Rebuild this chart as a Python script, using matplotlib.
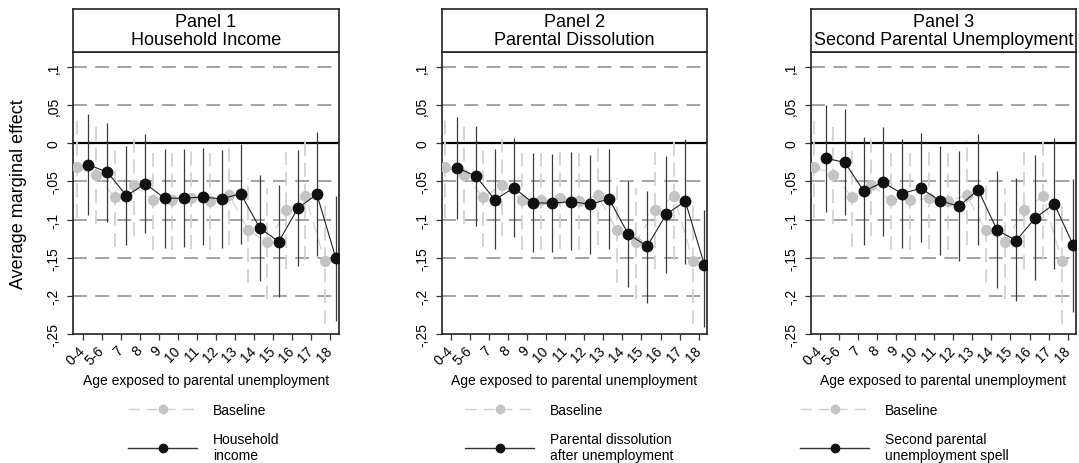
import numpy as np
import matplotlib
matplotlib.use("Agg")
from matplotlib import pyplot as plt
from matplotlib.lines import Line2D

plt.rcParams['font.family'] = ['Liberation Sans', 'DejaVu Sans']
plt.rcParams['lines.scale_dashes'] = False

ages = ['0-4', '5-6', '7', '8', '9', '10', '11', '12', '13', '14', '15', '16', '17', '18']

# baseline estimates (same in every panel)
base = [-0.031, -0.0415, -0.071, -0.055, -0.074, -0.075, -0.072, -0.076, -0.068, -0.114, -0.130, -0.088, -0.069, -0.154]
base_lo = [-0.098, -0.106, -0.136, -0.121, -0.140, -0.140, -0.138, -0.140, -0.134, -0.183, -0.204, -0.1645, -0.1535, -0.2365]
base_hi = [0.032, 0.023, -0.0097, 0.008, -0.0127, -0.0127, -0.0097, -0.0127, 0.0047, -0.046, -0.058, -0.012, 0.005, -0.081]

# panel 1: household income
inc = [-0.028, -0.038, -0.0686, -0.053, -0.072, -0.072, -0.0705, -0.073, -0.066, -0.111, -0.129, -0.085, -0.067, -0.151]
inc_lo = [-0.094, -0.103, -0.134, -0.118, -0.137, -0.136, -0.134, -0.137, -0.132, -0.181, -0.2016, -0.1615, -0.148, -0.2335]
inc_hi = [0.038, 0.0266, -0.003, 0.012, -0.0075, -0.0075, -0.006, -0.009, -0.001, -0.0415, -0.0546, -0.009, 0.015, -0.069]

# panel 2: parental dissolution
dis = [-0.032, -0.043, -0.074, -0.0585, -0.078, -0.0786, -0.0764, -0.080, -0.073, -0.119, -0.135, -0.093, -0.076, -0.159]
dis_lo = [-0.099, -0.108, -0.139, -0.123, -0.143, -0.143, -0.1405, -0.145, -0.139, -0.1885, -0.209, -0.170, -0.158, -0.241]
dis_hi = [0.034, 0.022, -0.008, 0.007, -0.0127, -0.014, -0.012, -0.015, -0.0075, -0.049, -0.062, -0.017, 0.0056, -0.088]

# panel 3: second parental unemployment
sec = [-0.0197, -0.025, -0.063, -0.051, -0.066, -0.059, -0.0755, -0.0825, -0.061, -0.114, -0.1275, -0.098, -0.0795, -0.134]
sec_lo = [-0.0895, -0.094, -0.134, -0.122, -0.137, -0.130, -0.146, -0.154, -0.134, -0.190, -0.207, -0.179, -0.165, -0.221]
sec_hi = [0.050, 0.045, 0.0087, 0.021, 0.0056, 0.0135, -0.004, -0.0105, 0.012, -0.037, -0.046, -0.015, 0.0065, -0.047]

titles = ["Panel 1\nHousehold Income", "Panel 2\nParental Dissolution", "Panel 3\nSecond Parental Unemployment"]
labels = ["Household\nincome", "Parental dissolution\nafter unemployment", "Second parental\nunemployment spell"]
panels = [(inc, inc_lo, inc_hi), (dis, dis_lo, dis_hi), (sec, sec_lo, sec_hi)]

yticks = [0.1, 0.05, 0, -0.05, -0.1, -0.15, -0.2, -0.25]
ytlab = [",1", ",05", "0", "-,05", "-,1", "-,15", "-,2", "-,25"]

W, H = 1079, 464
fig = plt.figure(figsize=(W / 100, H / 100), dpi=100)

lefts = [73.3, 441.7, 810.7]
pw = 265.5
ptop, pbot, htop = 52.7, 335, 10
legx = [128, 465, 800]

x = np.arange(len(ages))
gray = '#c4c4c4'
for k in range(3):
    est, lo, hi = panels[k]
    L = lefts[k]
    ax = fig.add_axes([L / W, 1 - pbot / H, pw / W, (pbot - ptop) / H])
    hx = fig.add_axes([L / W, 1 - ptop / H, pw / W, (ptop - htop) / H])

    # grid
    for yv in yticks:
        if yv == 0:
            ax.axhline(0, color='black', lw=1.6, zorder=1)
        elif yv > -0.25:
            ax.axhline(yv, color='#8a8a8a', lw=1.1, dashes=(10, 6), zorder=1)

    # baseline
    xb = x - 0.3
    ax.vlines(xb, base_lo, base_hi, color='#d2d2d2', lw=1.3, linestyles=(0, (10, 5)), zorder=2)
    ax.plot(xb, base, color='#d4d4d4', lw=0.9, dashes=(8, 5), zorder=2)
    ax.plot(xb, base, 'o', color=gray, ms=7, mec=gray, zorder=3)

    # estimate
    xe = x + 0.3
    ax.vlines(xe, lo, hi, color='#3a3a3a', lw=0.9, zorder=4)
    ax.plot(xe, est, color='#222222', lw=0.8, zorder=4)
    ax.plot(xe, est, 'o', color='#111111', ms=7.5, zorder=5)

    ax.set_xlim(-0.49, 13.45)
    ax.set_ylim(-0.25, 0.12)
    ax.set_yticks(yticks)
    ax.set_yticklabels(ytlab, rotation=90, va='center', fontsize=10)
    ax.set_xticks(x)
    ax.set_xticklabels(ages, rotation=45, ha='right', va='center', rotation_mode='anchor', fontsize=10)
    ax.tick_params(axis='both', length=4, width=0.9, color='#333333', pad=5)
    ax.tick_params(axis='x', pad=6)
    for s in ax.spines.values():
        s.set_linewidth(1.2)
        s.set_color('#222222')
    ax.set_xlabel("Age exposed to parental unemployment", fontsize=10, labelpad=4)
    if k == 0:
        ax.set_ylabel("Average marginal effect", fontsize=13, labelpad=14)

    # header strip
    hx.set_xticks([])
    hx.set_yticks([])
    for s in hx.spines.values():
        s.set_linewidth(1.2)
        s.set_color('#222222')
    hx.text(0.5, 0.5, titles[k], ha='center', va='center', fontsize=13, linespacing=1.05,
            transform=hx.transAxes)

    # legend
    h1 = Line2D([], [], color='#d0d0d0', lw=1.0, dashes=(8, 5), marker='o', ms=6,
                mfc=gray, mec=gray)
    h2 = Line2D([], [], color='#333333', lw=1.0, marker='o', ms=6, mfc='#111111', mec='#111111')
    ax.legend([h1, h2], ["Baseline", labels[k]], loc='upper left',
              bbox_to_anchor=(legx[k] / W, 1 - 404 / H), bbox_transform=fig.transFigure,
              frameon=False, fontsize=10, handlelength=5.0, handletextpad=1.1,
              borderpad=0, borderaxespad=0, labelspacing=1.1)

fig.savefig("out.png", dpi=100)
